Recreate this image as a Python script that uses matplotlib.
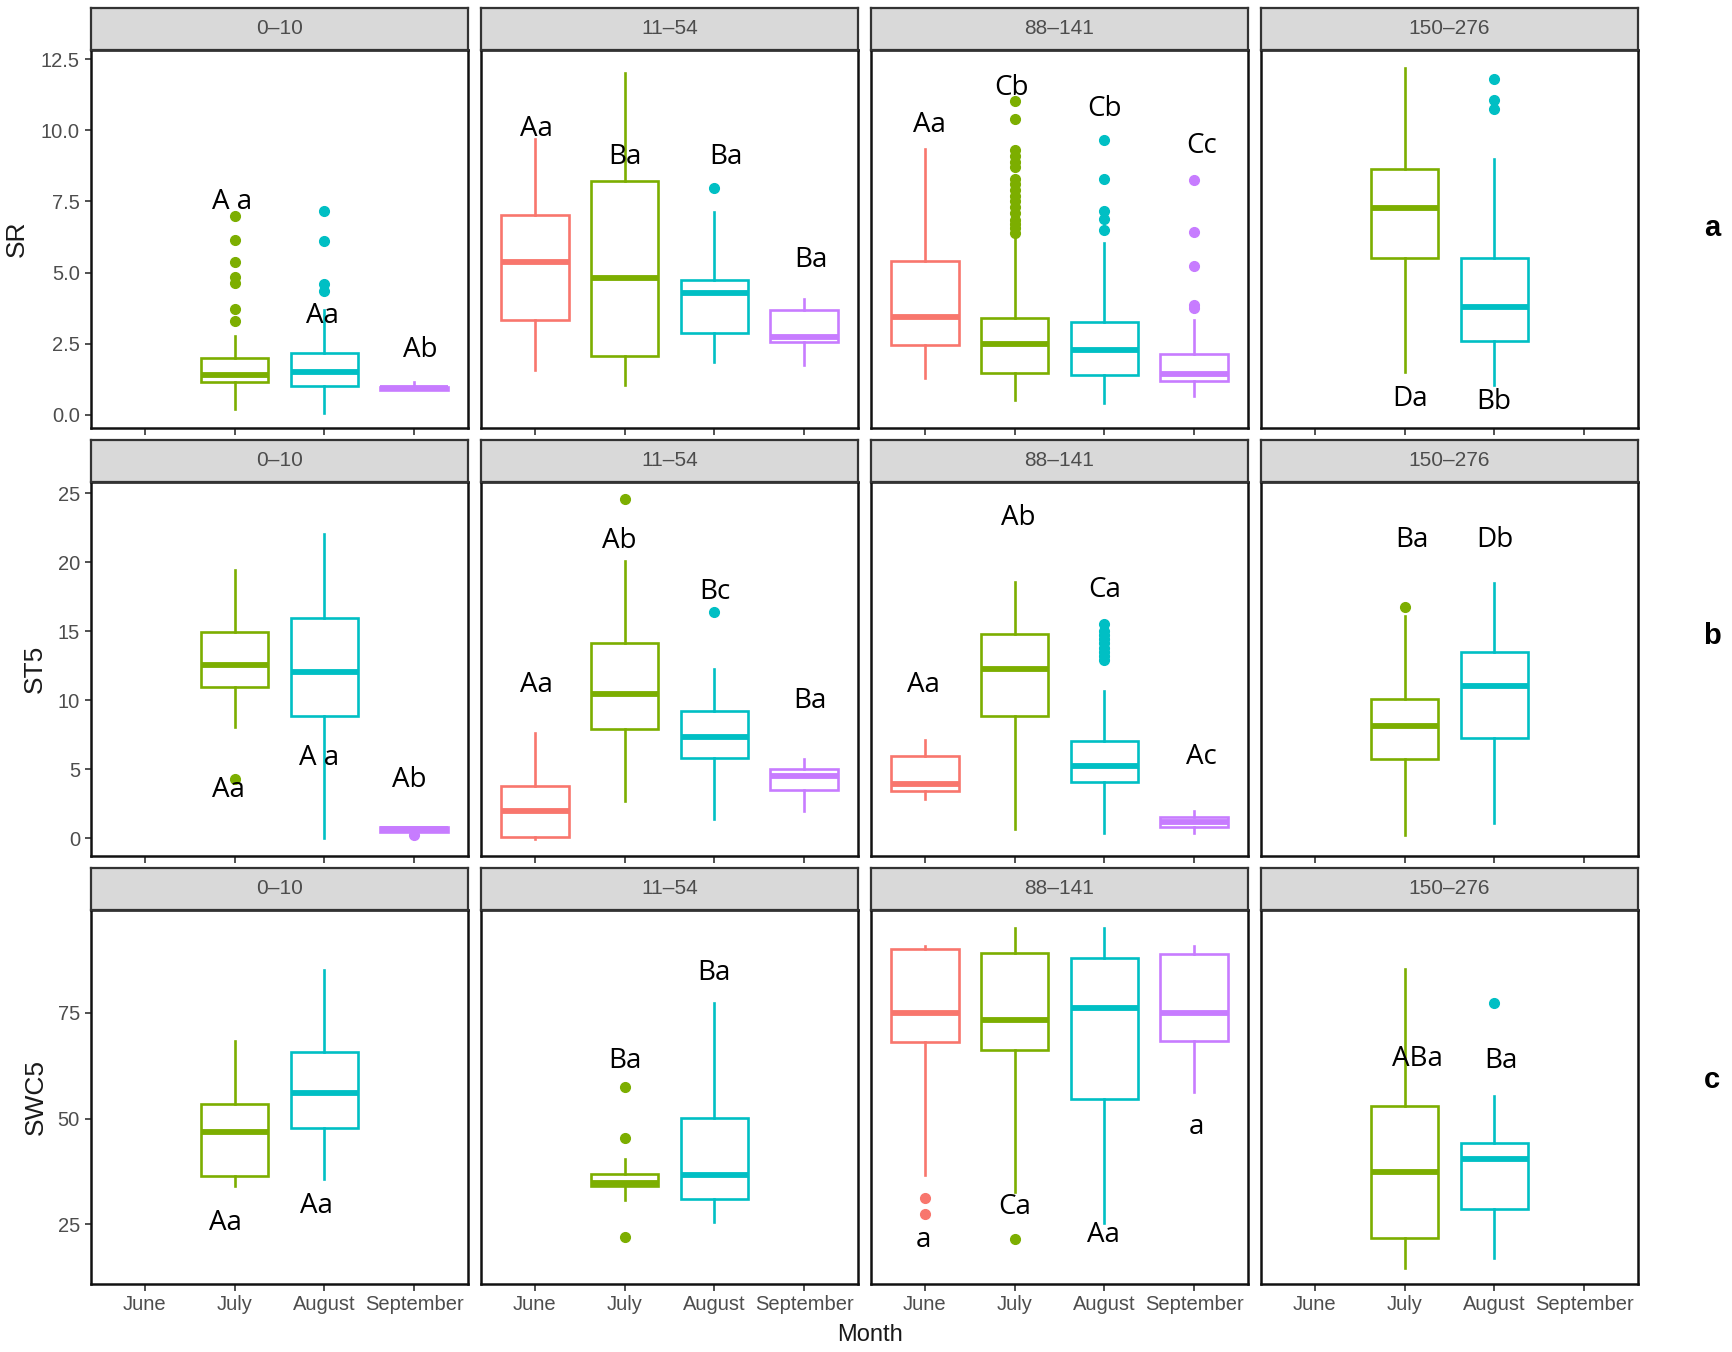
import matplotlib
matplotlib.use("Agg")
import matplotlib.pyplot as plt

months = ["June", "July", "August", "September"]
depths = ["0–10", "11–54", "88–141", "150–276"]
colors = ["#F8766D", "#7CAE00", "#00BFC4", "#C77CFF"]
variables = ["SR", "ST5", "SWC5"]
panel_tags = ["a", "b", "c"]

# box statistics, one row per depth group, one entry per month (None = no data)
sr_q1 = [[None, 1.17, 1.02, 0.88], [3.34, 2.06, 2.88, 2.56], [2.47, 1.47, 1.39, 1.18], [None, 5.50, 2.60, None]]
sr_med = [[None, 1.40, 1.52, 0.94], [5.36, 4.80, 4.30, 2.75], [3.45, 2.50, 2.28, 1.42], [None, 7.28, 3.80, None]]
sr_q3 = [[None, 2.01, 2.17, 0.99], [7.01, 8.21, 4.73, 3.67], [5.42, 3.39, 3.27, 2.15], [None, 8.64, 5.50, None]]
sr_lo = [[None, 0.20, 0.08, 0.88], [1.59, 1.06, 1.86, 1.75], [1.30, 0.52, 0.42, 0.66], [None, 1.52, 1.05, None]]
sr_hi = [[None, 2.77, 3.69, 1.17], [9.71, 12.0, 7.14, 4.06], [9.35, 6.25, 6.05, 3.33], [None, 12.2, 8.98, None]]
sr_out = [
    [[], [3.30, 3.71, 4.65, 4.86, 5.38, 6.14, 7.00], [4.35, 4.59, 6.10, 7.16], []],
    [[], [], [7.98], []],
    [[], [6.40, 6.55, 6.70, 6.85, 7.10, 7.30, 7.50, 7.70, 7.90, 8.10, 8.30, 8.70, 8.90, 9.10, 9.30, 10.41, 11.04],
     [6.50, 6.88, 7.17, 8.30, 9.65], [3.75, 3.85, 5.23, 6.43, 8.25]],
    [[], [], [10.75, 11.06, 11.80], []],
]

st_q1 = [[None, 10.94, 8.82, 0.46], [0.10, 7.90, 5.82, 3.48], [3.40, 8.86, 4.08, 0.82], [None, 5.70, 7.22, None]]
st_med = [[None, 12.51, 12.03, 0.65], [1.96, 10.41, 7.30, 4.51], [3.89, 12.27, 5.24, 1.15], [None, 8.09, 11.04, None]]
st_q3 = [[None, 14.93, 15.94, 0.78], [3.77, 14.10, 9.23, 5.00], [5.94, 14.76, 7.05, 1.55], [None, 10.09, 13.45, None]]
st_lo = [[None, 8.04, 0.0, 0.46], [-0.10, 2.68, 1.38, 1.96], [2.80, 0.63, 0.34, 0.34], [None, 0.22, 1.06, None]]
st_hi = [[None, 19.44, 22.05, 0.78], [7.64, 20.07, 12.27, 5.70], [7.10, 18.57, 10.68, 1.96], [None, 16.10, 18.50, None]]
st_out = [
    [[], [4.28], [], [0.20]],
    [[], [24.60], [16.40], []],
    [[], [], [12.9, 13.2, 13.5, 13.8, 14.1, 14.4, 14.7, 15.0, 15.5], []],
    [[], [16.72], [], []],
]

swc_q1 = [[None, 36.5, 47.7, None], [None, 34.0, 30.9, None], [68.2, 66.2, 54.6, 68.4], [None, 21.8, 28.5, None]]
swc_med = [[None, 46.8, 56.0, None], [None, 34.8, 36.6, None], [74.9, 73.3, 76.1, 74.9], [None, 37.25, 40.4, None]]
swc_q3 = [[None, 53.4, 65.8, None], [None, 36.9, 50.05, None], [90.2, 89.1, 88.1, 88.9], [None, 53.0, 44.2, None]]
swc_lo = [[None, 33.9, 35.7, None], [None, 30.7, 25.5, None], [36.6, 32.65, 25.3, 56.35], [None, 14.7, 16.9, None]]
swc_hi = [[None, 68.3, 85.3, None], [None, 40.3, 77.45, None], [90.9, 95.2, 95.2, 90.95], [None, 85.4, 55.3, None]]
swc_out = [
    [[], [], [], []],
    [[], [22.0, 45.3, 57.4], [], []],
    [[31.2, 27.5], [21.4], [], []],
    [[], [], [77.3], []],
]

# significance letters: (depth, x in month units, y, text)
sr_letters = [(0, 1.97, 7.49, "A a"), (0, 2.98, 3.48, "Aa"), (0, 4.07, 2.28, "Ab"),
              (1, 1.02, 10.06, "Aa"), (1, 2.0, 9.07, "Ba"), (1, 3.13, 9.07, "Ba"), (1, 4.08, 5.44, "Ba"),
              (2, 1.05, 10.18, "Aa"), (2, 1.97, 11.5, "Cb"), (2, 3.0, 10.73, "Cb"), (2, 4.08, 9.46, "Cc"),
              (3, 2.06, 0.56, "Da"), (3, 2.99, 0.45, "Bb")]
st_letters = [(0, 1.93, 3.5, "Aa"), (0, 2.94, 5.82, "A a"), (0, 3.95, 4.18, "Ab"),
              (1, 1.02, 11.09, "Aa"), (1, 1.94, 21.55, "Ab"), (1, 3.0, 17.85, "Bc"), (1, 4.06, 9.95, "Ba"),
              (2, 0.98, 11.09, "Aa"), (2, 2.04, 23.17, "Ab"), (2, 3.0, 17.97, "Ca"), (2, 4.08, 5.89, "Ac"),
              (3, 2.08, 21.6, "Ba"), (3, 3.01, 21.6, "Db")]
swc_letters = [(0, 1.9, 25.2, "Aa"), (0, 2.91, 29.2, "Aa"),
               (1, 2.0, 63.6, "Ba"), (1, 3.0, 84.55, "Ba"),
               (2, 0.98, 21.2, "a"), (2, 2.0, 29.1, "Ca"), (2, 2.99, 22.4, "Aa"), (2, 4.02, 48.05, "a"),
               (3, 2.14, 64.0, "ABa"), (3, 3.07, 63.6, "Ba")]

stats = [
    (sr_q1, sr_med, sr_q3, sr_lo, sr_hi, sr_out, sr_letters),
    (st_q1, st_med, st_q3, st_lo, st_hi, st_out, st_letters),
    (swc_q1, swc_med, swc_q3, swc_lo, swc_hi, swc_out, swc_letters),
]
ylims = [(-0.46, 12.82), (-1.3, 25.8), (10.8, 99.4)]
yticks = [[0, 2.5, 5, 7.5, 10, 12.5], [0, 5, 10, 15, 20, 25], [25, 50, 75]]
yticklabels = [["0.0", "2.5", "5.0", "7.5", "10.0", "12.5"], ["0", "5", "10", "15", "20", "25"], ["25", "50", "75"]]

W, H = 1733, 1352
fig = plt.figure(figsize=(W / 100, H / 100), dpi=100)

col_left = [91, 481, 871, 1261]
col_w = 377
row_top = [50, 482, 910]
row_h = [378, 374, 374]
strip_h = 42
tick_grey = "#4D4D4D"

for r in range(3):
    q1, med, q3, lo, hi, out, letters = stats[r]
    for d in range(4):
        x0 = col_left[d] / W
        ax = fig.add_axes([x0, 1 - (row_top[r] + row_h[r]) / H, col_w / W, row_h[r] / H])
        for m in range(4):
            if q1[d][m] is None:
                continue
            c = colors[m]
            st = dict(q1=q1[d][m], med=med[d][m], q3=q3[d][m],
                      whislo=lo[d][m], whishi=hi[d][m], fliers=out[d][m])
            ax.bxp([st], positions=[m + 1], widths=0.75, showcaps=False, patch_artist=True,
                   boxprops=dict(facecolor="white", edgecolor=c, linewidth=1.9),
                   medianprops=dict(color=c, linewidth=4.2, solid_capstyle="butt"),
                   whiskerprops=dict(color=c, linewidth=1.9),
                   flierprops=dict(marker="o", markerfacecolor=c, markeredgecolor=c, markersize=7))
        for dd, lx, ly, txt in letters:
            if dd == d:
                ax.text(lx, ly, txt, ha="center", va="center", fontsize=20,
                        family="Open Sans", color="black")
        ax.set_xlim(0.4, 4.6)
        ax.set_ylim(*ylims[r])
        ax.set_xticks([1, 2, 3, 4])
        if r == 2:
            ax.set_xticklabels(months, fontsize=14.5, color=tick_grey, family="Liberation Sans")
        else:
            ax.set_xticklabels([])
        ax.set_yticks(yticks[r])
        if d == 0:
            ax.set_yticklabels(yticklabels[r], fontsize=14.5, color=tick_grey, family="Liberation Sans")
            ax.tick_params(axis="y", length=4, width=1.2, color="#333333", pad=4)
        else:
            ax.tick_params(axis="y", length=0, labelleft=False)
        ax.tick_params(axis="x", length=5, width=1.2, color="#333333", pad=3)
        for s in ax.spines.values():
            s.set_linewidth(1.8)
            s.set_color("#111111")

        # facet strip
        sax = fig.add_axes([x0, 1 - row_top[r] / H, col_w / W, strip_h / H])
        sax.set_facecolor("#D9D9D9")
        sax.set_xticks([])
        sax.set_yticks([])
        for s in sax.spines.values():
            s.set_linewidth(1.6)
            s.set_color("#333333")
        sax.text(0.5, 0.5, depths[d], ha="center", va="center", fontsize=15,
                 color=tick_grey, family="Liberation Sans", transform=sax.transAxes)

# axis titles
ylab_x = [17, 35, 36]
for r in range(3):
    yc = row_top[r] + row_h[r] / 2
    fig.text(ylab_x[r] / W, 1 - yc / H, variables[r], rotation=90, ha="center", va="center",
             fontsize=19, family="Liberation Sans", color="#1a1a1a")

tag_y = [228, 636, 1080]
for r in range(3):
    fig.text(1712 / W, 1 - tag_y[r] / H, panel_tags[r], ha="center", va="center",
             fontsize=21, fontweight="bold", family="Liberation Sans")

fig.text(870 / W, 1 - 1335 / H, "Month", ha="center", va="center", fontsize=17,
         family="Liberation Sans", color="#1a1a1a")

fig.savefig("out.png", dpi=100)
